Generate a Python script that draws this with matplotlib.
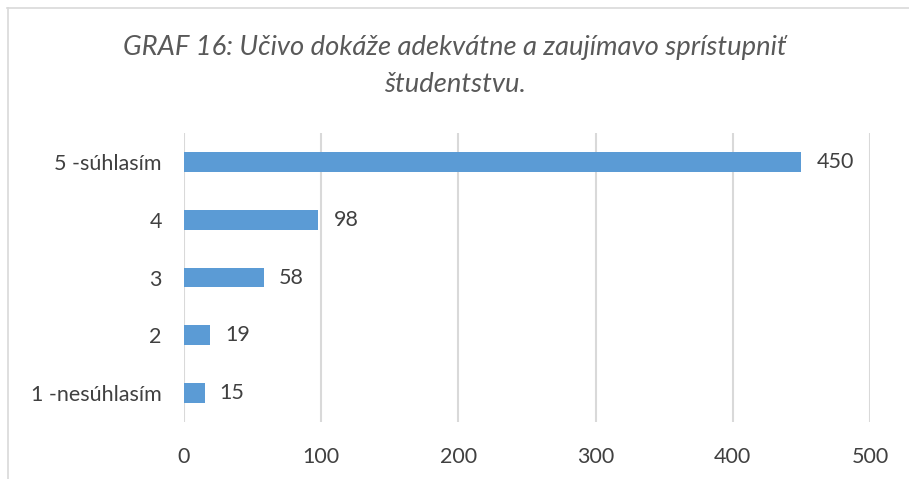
import matplotlib
matplotlib.use("Agg")
import matplotlib.pyplot as plt
from matplotlib.lines import Line2D

categories = ["1 -nesúhlasím", "2", "3", "4", "5 -súhlasím"]
values = [15, 19, 58, 98, 450]
xticks = [0, 100, 200, 300, 400, 500]
title = "GRAF 16: Učivo dokáže adekvátne a zaujímavo sprístupniť\nštudentstvu."

plt.rcParams['font.family'] = ['Lato', 'DejaVu Sans']

W, H = 909, 479
fig = plt.figure(figsize=(W/100, H/100), dpi=100)
ax = fig.add_axes([184/W, 1-422/H, (870-184)/W, (422-133)/H])

bar_color = "#5B9BD5"
text_color = "#404040"
grid_color = "#D9D9D9"

y = list(range(len(categories)))
ax.barh(y, values, height=0.34, color=bar_color, zorder=3)
for yi, v in zip(y, values):
    ax.text(v + 11, yi, str(v), va="center", ha="left", fontsize=15.5, color=text_color)

ax.set_xlim(0, 500)
ax.set_ylim(-0.5, 4.5)
ax.set_xticks(xticks)
ax.set_xticklabels([str(t) for t in xticks], fontsize=15.5, color=text_color)
ax.set_yticks(y)
ax.set_yticklabels(categories, fontsize=15.5, color=text_color)
ax.tick_params(axis="both", length=0)
ax.tick_params(axis="x", pad=18)
ax.tick_params(axis="y", pad=16)
ax.grid(axis="x", color=grid_color, linewidth=1.5, zorder=0)
for s in ax.spines.values():
    s.set_visible(False)

fig.text(455/W, 1-66/H, title, ha="center", va="center", fontsize=19.7,
         style="italic", color="#595959", linespacing=1.6)

# chart border (top and left visible)
fig.add_artist(Line2D([7/W, 1], [1-8/H, 1-8/H], transform=fig.transFigure, color=grid_color, lw=1.2))
fig.add_artist(Line2D([8/W, 8/W], [0, 1-8/H], transform=fig.transFigure, color=grid_color, lw=1.2))

fig.savefig("out.png", dpi=100)
